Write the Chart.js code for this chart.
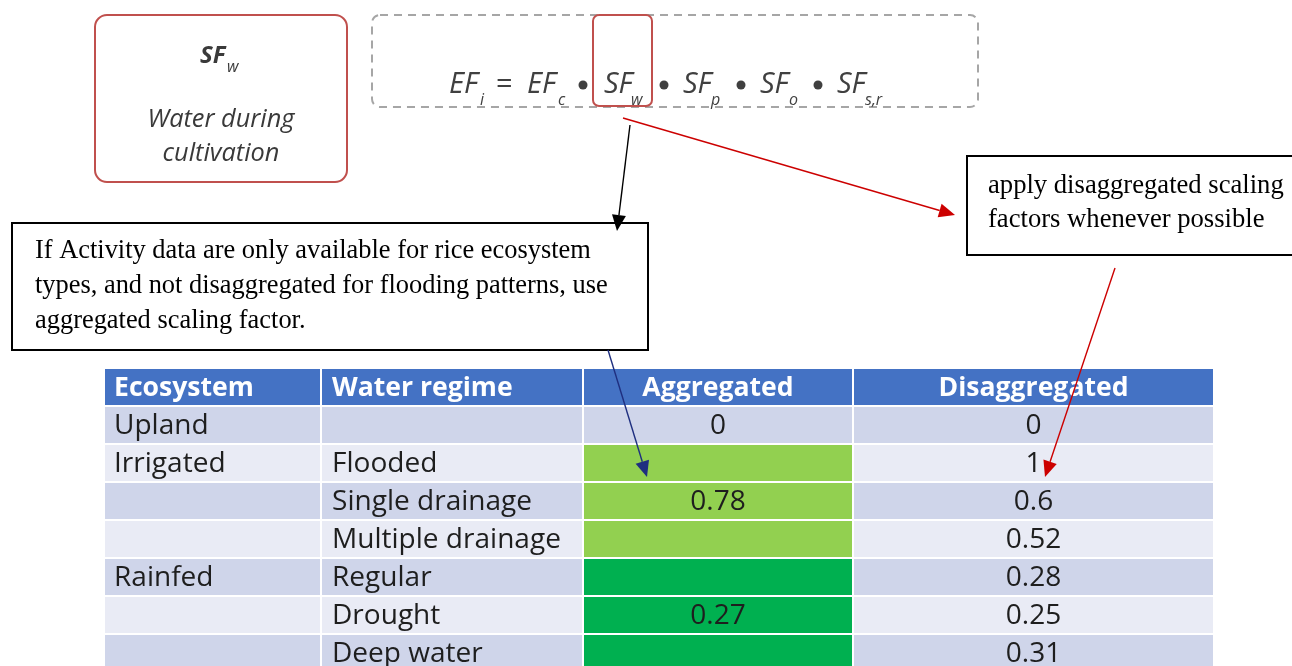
<!DOCTYPE html>
<html><head><meta charset="utf-8">
<script src="https://cdn.jsdelivr.net/npm/chart.js@4.4.1/dist/chart.umd.min.js"></script>
<style>
html,body{margin:0;padding:0;overflow:hidden;background:#fff;width:1292px;height:666px}
#wrap{position:relative;width:1292px;height:680px}
canvas{display:block}
</style>
</head><body><div id="wrap"><canvas id="c" width="1292" height="680"></canvas></div>
<script>
// ---- data ----
const headers = ['Ecosystem', 'Water regime', 'Aggregated', 'Disaggregated'];
const ecosystems = ['Upland', 'Irrigated', '', '', 'Rainfed', '', ''];
const waterRegimes = ['', 'Flooded', 'Single drainage', 'Multiple drainage', 'Regular', 'Drought', 'Deep water'];
const ecosystemGroup = ['Upland', 'Irrigated', 'Irrigated', 'Irrigated', 'Rainfed', 'Rainfed', 'Rainfed'];
const aggregated = [0, null, 0.78, null, null, 0.27, null];
const disaggregated = [0, 1, 0.6, 0.52, 0.28, 0.25, 0.31];

// ---- layout / style ----
const colEdges = [0, 216, 478, 748, 1108];   // table column edges (x units = px from table left)
const C = {
  header: '#4472C4', dark: '#CFD5EA', light: '#E9EBF5',
  irrigated: '#92D050', rainfed: '#00B050'
};
const FONT = '"Open Sans"';
const rowLabels = ['header'].concat(waterRegimes.map((w, i) => 'row' + i));

function cellColor(c, r) {
  if (r === 0) return C.header;
  const i = r - 1;
  if (c === 2 && ecosystemGroup[i] === 'Irrigated') return C.irrigated;
  if (c === 2 && ecosystemGroup[i] === 'Rainfed') return C.rainfed;
  return i % 2 === 0 ? C.dark : C.light;
}
const datasets = headers.map((h, c) => ({
  label: h,
  data: rowLabels.map(() => [colEdges[c] + (c > 0 ? 1 : 0), colEdges[c + 1] - (c < 3 ? 1 : 0)]),
  backgroundColor: rowLabels.map((l, r) => cellColor(c, r)),
  borderWidth: 0,
  grouped: false,
  barPercentage: 36 / 38,
  categoryPercentage: 1
}));

function fit(ctx, text, spec, target) {
  ctx.font = spec(100);
  return 100 * target / ctx.measureText(text).width;
}
const fmt = v => (v === null || v === undefined) ? '' : String(v);

const tableText = {
  id: 'tableText',
  afterDatasetsDraw(chart) {
    const ctx = chart.ctx;
    ctx.save();
    const hSize = fit(ctx, 'Disaggregated', s => `bold ${s}px ${FONT}`, 190);
    const bSize = fit(ctx, 'Multiple drainage', s => `${s}px ${FONT}`, 229);
    for (let c = 0; c < 4; c++) {
      const meta = chart.getDatasetMeta(c);
      meta.data.forEach((el, r) => {
        let txt;
        if (r === 0) txt = headers[c];
        else {
          const i = r - 1;
          txt = [ecosystems[i], waterRegimes[i], fmt(aggregated[i]), fmt(disaggregated[i])][c];
        }
        if (!txt) return;
        const left = Math.min(el.x, el.base), right = Math.max(el.x, el.base);
        ctx.font = r === 0 ? `bold ${hSize}px ${FONT}` : `${bSize}px ${FONT}`;
        ctx.fillStyle = r === 0 ? '#ffffff' : '#1e1e1e';
        ctx.textBaseline = 'middle';
        if (c < 2) { ctx.textAlign = 'left'; ctx.fillText(txt, left + (c === 0 ? 9 : 10), el.y + 1); }
        else { ctx.textAlign = 'center'; ctx.fillText(txt, (left + right) / 2, el.y + 1); }
      });
    }
    ctx.restore();
  }
};

function arrow(ctx, x1, y1, x2, y2, color) {
  const a = Math.atan2(y2 - y1, x2 - x1), L = 16, W = 7;
  const bx = x2 - L * Math.cos(a), by = y2 - L * Math.sin(a);
  ctx.strokeStyle = color; ctx.fillStyle = color; ctx.lineWidth = 1.4;
  ctx.beginPath(); ctx.moveTo(x1, y1); ctx.lineTo(bx, by); ctx.stroke();
  ctx.beginPath();
  ctx.moveTo(x2, y2);
  ctx.lineTo(bx + W * Math.sin(a), by - W * Math.cos(a));
  ctx.lineTo(bx - W * Math.sin(a), by + W * Math.cos(a));
  ctx.closePath(); ctx.fill();
}

const annotations = {
  id: 'annotations',
  afterDraw(chart) {
    const ctx = chart.ctx;
    ctx.save();
    // SF_w box
    ctx.strokeStyle = '#C0504D'; ctx.lineWidth = 2;
    ctx.beginPath(); ctx.roundRect(95, 15, 252, 167, 12); ctx.stroke();
    ctx.fillStyle = '#3a3a3a';
    ctx.textBaseline = 'alphabetic'; ctx.textAlign = 'left';
    ctx.font = `italic bold 24px ${FONT}`; ctx.fillText('SF', 200, 63);
    ctx.font = `italic 16px ${FONT}`; ctx.fillText('w', 227, 72);
    const wSize = fit(ctx, 'Water during', s => `italic ${s}px ${FONT}`, 147);
    ctx.font = `italic ${wSize}px ${FONT}`; ctx.textAlign = 'center';
    ctx.fillText('Water during', 221, 127);
    ctx.fillText('cultivation', 221, 161);

    // dashed formula box
    ctx.strokeStyle = '#A6A6A6'; ctx.lineWidth = 2; ctx.setLineDash([8, 6]);
    ctx.beginPath(); ctx.roundRect(372, 15, 606, 92, 8); ctx.stroke();
    ctx.setLineDash([]);
    // formula
    ctx.fillStyle = '#404040'; ctx.textAlign = 'left';
    const main = `italic 29px ${FONT}`, sub = `italic 16px ${FONT}`, op = `29px ${FONT}`;
    const tokens = [
      ['EF', 449, main, 93], ['i', 480, sub, 105], ['=', 496, op, 93],
      ['EF', 527, main, 93], ['c', 558, sub, 105],
      ['SF', 604, main, 93], ['w', 631, sub, 105],
      ['SF', 683, main, 93], ['p', 711, sub, 105],
      ['SF', 760, main, 93], ['o', 789, sub, 105],
      ['SF', 837, main, 93], ['s,r', 865, sub, 105]
    ];
    tokens.forEach(t => { ctx.font = t[2]; ctx.fillText(t[0], t[1], t[3]); });
    [583, 664, 741, 818].forEach(x => {
      ctx.beginPath(); ctx.arc(x, 85, 4.5, 0, Math.PI * 2); ctx.fill();
    });
    // red highlight around SF_w
    ctx.strokeStyle = '#C0504D'; ctx.lineWidth = 2;
    ctx.beginPath(); ctx.roundRect(593, 15, 59, 91, 6); ctx.stroke();

    // right note box
    ctx.strokeStyle = '#000'; ctx.lineWidth = 2;
    ctx.strokeRect(967, 156, 330, 99);
    ctx.fillStyle = '#000';
    const rSize = fit(ctx, 'apply disaggregated scaling', s => `${s}px "Liberation Serif"`, 296);
    ctx.font = `${rSize}px "Liberation Serif"`;
    ctx.fillText('apply disaggregated scaling', 988, 193);
    ctx.fillText('factors whenever possible', 988, 227);

    // left note box
    ctx.strokeRect(12, 223, 636, 127);
    const lSize = fit(ctx, 'If Activity data are only available for rice ecosystem', s => `${s}px "Liberation Serif"`, 556);
    ctx.font = `${lSize}px "Liberation Serif"`;
    ctx.fillText('If Activity data are only available for rice ecosystem', 35, 258);
    ctx.fillText('types, and not disaggregated for flooding patterns, use', 35, 293);
    ctx.fillText('aggregated scaling factor.', 35, 328);

    // arrows
    arrow(ctx, 630, 125, 617, 231, '#000000');
    arrow(ctx, 623, 118, 955, 215, '#CC0000');
    arrow(ctx, 608, 350, 647, 477, '#1F2F80');
    arrow(ctx, 1115, 268, 1045, 477, '#CC0000');
    ctx.restore();
  }
};

new Chart(document.getElementById('c'), {
  type: 'bar',
  data: { labels: rowLabels, datasets },
  options: {
    indexAxis: 'y',
    responsive: false,
    animation: false,
    devicePixelRatio: 1,
    layout: { padding: { left: 105, right: 79, top: 368, bottom: 8 } },
    scales: {
      x: { type: 'linear', min: 0, max: 1108, display: false },
      y: { type: 'category', display: false, offset: true }
    },
    plugins: { legend: { display: false }, tooltip: { enabled: false } }
  },
  plugins: [tableText, annotations]
});
</script>
</body></html>
